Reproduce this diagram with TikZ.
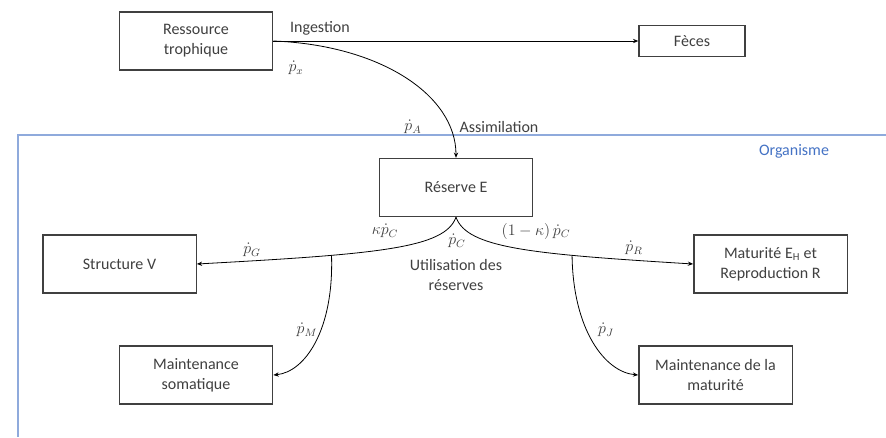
\documentclass[tikz,border=0pt]{standalone}
\usepackage{fontspec}
\setmainfont{Carlito}
\usepackage{amsmath,amssymb}
\usepackage{tikz}
\usetikzlibrary{positioning,arrows.meta}
\definecolor{orgline}{RGB}{143,170,220}
\definecolor{orgtext}{RGB}{68,114,196}
\definecolor{boxgrey}{RGB}{64,64,64}
\tikzset{
  box/.style={draw=boxgrey, line width=1pt, fill=white, align=center, text=boxgrey, font=\fontsize{12}{15}\selectfont, minimum width=115pt, minimum height=43.5pt, inner sep=2pt},
  arr/.style={-{Stealth[length=4pt,width=3.2pt]}, line width=0.6pt, draw=black},
  lbl/.style={font=\fontsize{12}{15}\selectfont, text=boxgrey, inner sep=1pt, align=center},
}

\begin{document}
\begin{tikzpicture}[x=0.75pt,y=-0.75pt]
    \useasboundingbox (0,0) rectangle (886,437);
    % organisme
    \draw[orgline, line width=1pt] (886,135) -| (18,437);
    \node[lbl, text=orgtext] (org) at (794,151) {Organisme};

    \node[box] (res) at (196,41) {Ressource\\trophique};
    \node[box, minimum width=79.5pt, minimum height=23pt] (fec) at (692,41) {Fèces};
    \node[box] (rsv) at (456,187.5) {Réserve E};
    \node[box] (str) at (119.5,264) {Structure V};
    \node[box] (mat) at (770.5,264) {Maturité E\textsubscript{H} et\\Reproduction R};
    \node[box] (mso) at (196,375) {Maintenance\\somatique};
    \node[box] (mmt) at (715.5,375) {Maintenance de la\\maturité};

    \draw[arr] (res.east) -- (fec.west);
    \draw[arr] (res.east) .. controls (380,45) and (456,95) .. (rsv.north);
    \draw[arr] (rsv.south) .. controls (445,248) and (380,254) .. (str.east) coordinate[pos=0.7] (bl);
    \draw[arr] (rsv.south) .. controls (467,248) and (530,254) .. (mat.west) coordinate[pos=0.7] (br);
    \draw[arr] (bl) .. controls (334,330) and (305,372) .. (mso.east);
    \draw[arr] (br) .. controls (573,330) and (605,372) .. (mmt.west);

    \node[lbl] (ing) at (320,28) {Ingestion};
    \node[lbl] (px) at (296,68) {$\dot p_x$};
    \node[lbl] (pa) at (413,127) {$\dot p_A$};
    \node[lbl] (ass) at (499,127) {Assimilation};
    \node[lbl] (kpc) at (385,231) {$\kappa\dot p_C$};
    \node[lbl] (pc) at (457,241) {$\dot p_C$};
    \node[lbl] (util) at (456,275) {Utilisation des\\réserves};
    \node[lbl] (kpc2) at (536,231) {$(1-\kappa)\,\dot p_C$};
    \node[lbl] (pg) at (252,250) {$\dot p_G$};
    \node[lbl] (pm) at (307,330) {$\dot p_M$};
    \node[lbl] (pr) at (634,248) {$\dot p_R$};
    \node[lbl] (pj) at (606,330) {$\dot p_J$};
  \end{tikzpicture}
\end{document}
